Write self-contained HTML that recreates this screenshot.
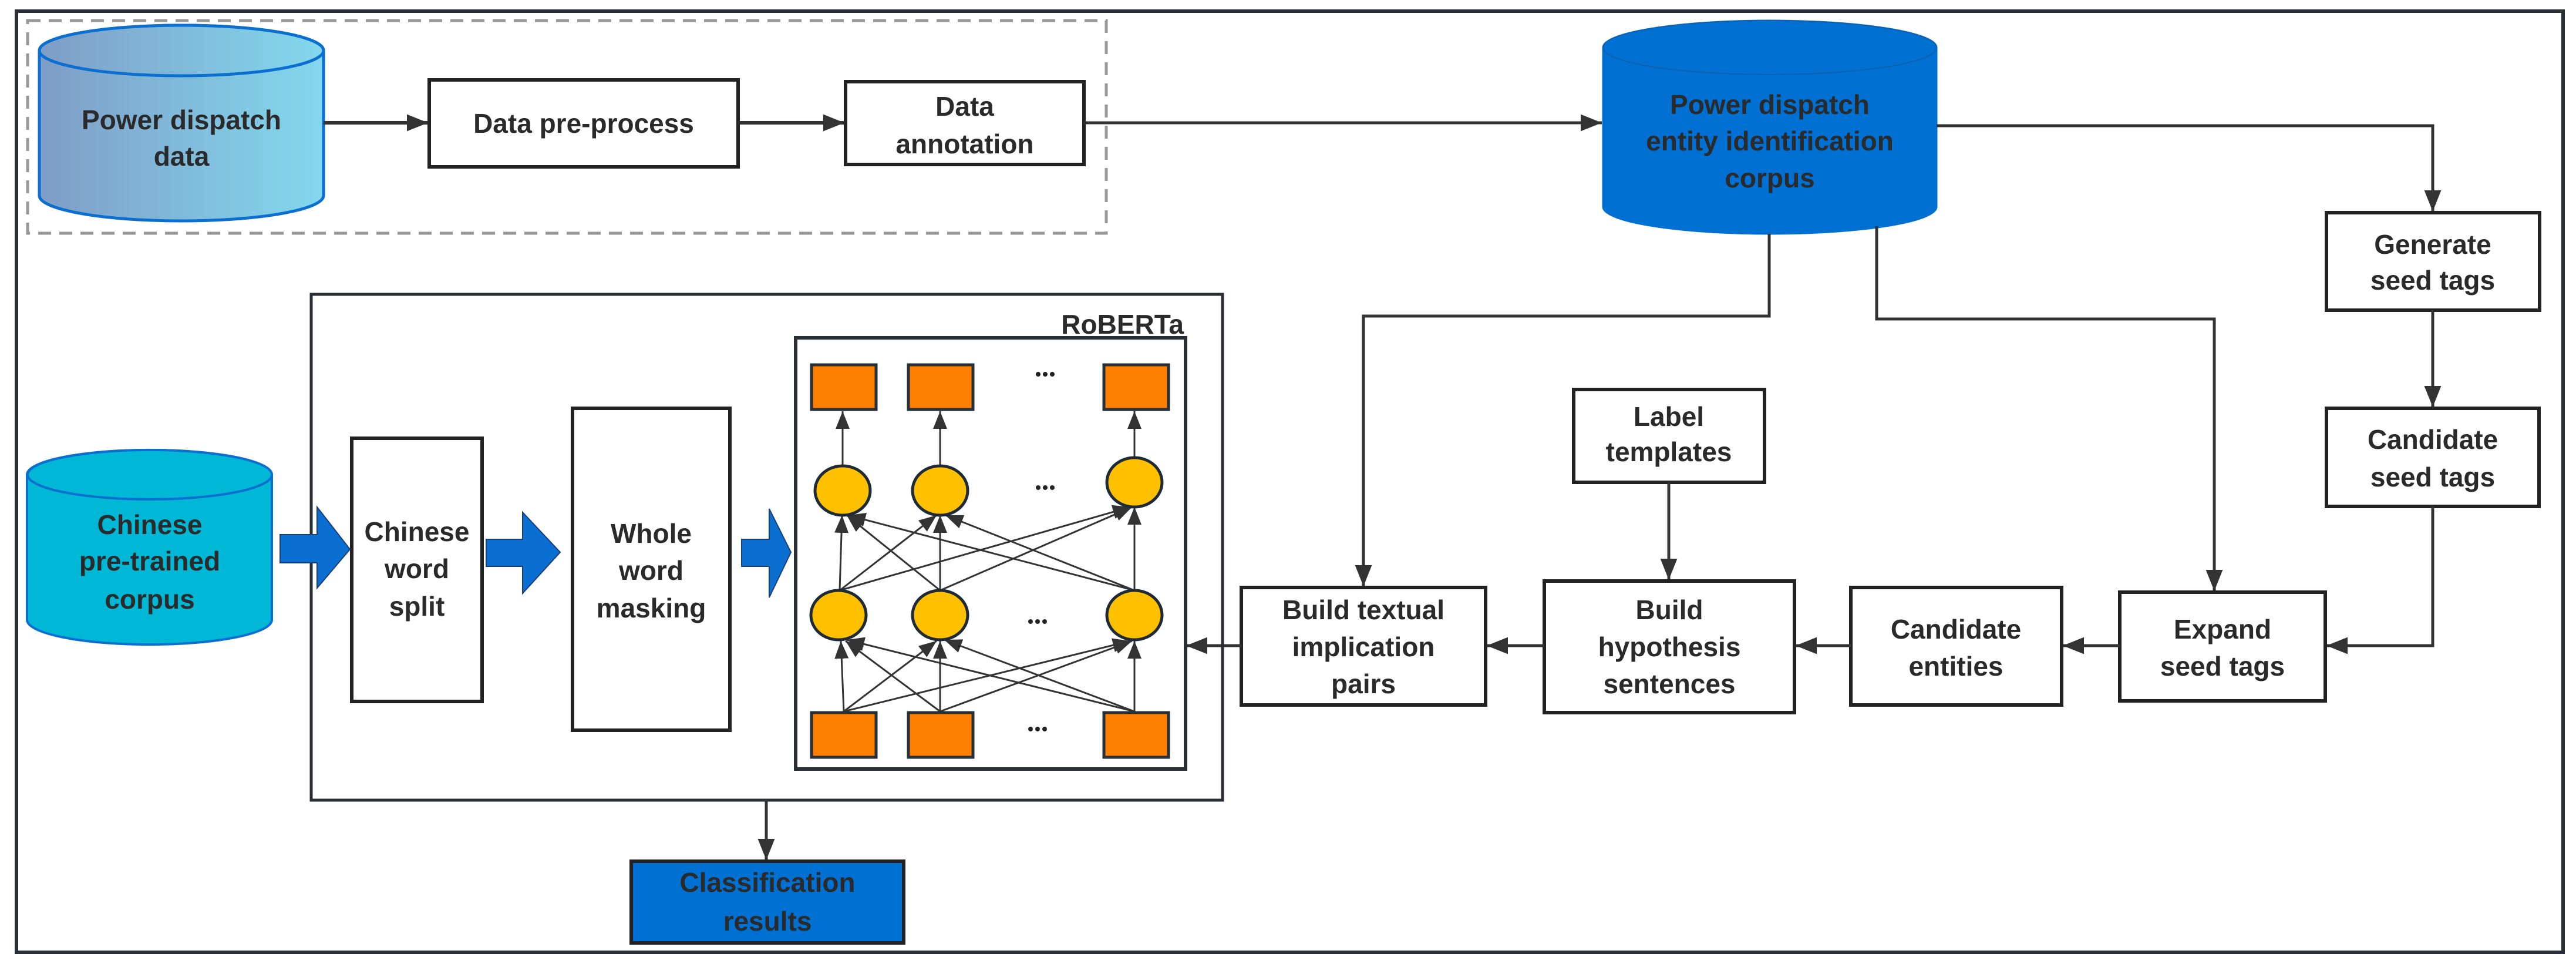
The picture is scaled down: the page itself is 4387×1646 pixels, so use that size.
<!DOCTYPE html>
<html><head><meta charset="utf-8"><style>html,body{margin:0;padding:0;background:#fff}svg{display:block}text{font-family:"Liberation Sans",sans-serif;font-weight:bold;font-size:46px;fill:#2a2a2a;text-anchor:middle;dominant-baseline:central}</style></head><body>
<svg width="4387" height="1646" viewBox="0 0 4387 1646" xmlns="http://www.w3.org/2000/svg">
<defs>
<linearGradient id="g1" x1="0" x2="1" y1="0" y2="0"><stop offset="0" stop-color="#7f9dc6"/><stop offset="1" stop-color="#82d8ee"/></linearGradient>
<marker id="ah" viewBox="0 0 10 10" refX="10" refY="5" markerWidth="36" markerHeight="36" markerUnits="userSpaceOnUse" orient="auto"><path d="M0,1 L10,5 L0,9 Z" fill="#333"/></marker>
<marker id="as" viewBox="0 0 10 10" refX="10" refY="5" markerWidth="30" markerHeight="30" markerUnits="userSpaceOnUse" orient="auto"><path d="M0,1 L10,5 L0,9 Z" fill="#333"/></marker>
</defs>
<rect x="28" y="19" width="4337" height="1602" fill="none" stroke="#2a2f36" stroke-width="6"/>
<rect x="47" y="35" width="1837" height="362" fill="none" stroke="#999" stroke-width="5" stroke-dasharray="22,14"/>
<path d="M67,86 A242,43 0 0 1 551,86 V333 A242,43 0 0 1 67,333 Z" fill="url(#g1)" stroke="#0a6fd0" stroke-width="5"/>
<ellipse cx="309" cy="86" rx="242" ry="43" fill="url(#g1)" stroke="#0a6fd0" stroke-width="5"/>
<text x="309" y="204">Power dispatch</text><text x="309" y="266">data</text>
<rect x="731" y="136" width="526" height="148" fill="#fff" stroke="#222" stroke-width="6"/>
<text x="994" y="210">Data pre-process</text>
<rect x="1440" y="139" width="406" height="141" fill="#fff" stroke="#222" stroke-width="6"/>
<text x="1643" y="181">Data</text><text x="1643" y="245">annotation</text>
<line x1="551" y1="209" x2="729" y2="209" stroke="#333" stroke-width="6" marker-end="url(#ah)"/>
<line x1="1257" y1="209" x2="1438" y2="209" stroke="#333" stroke-width="6" marker-end="url(#ah)"/>
<line x1="1846" y1="209" x2="2728" y2="209" stroke="#333" stroke-width="5" marker-end="url(#ah)"/>
<path d="M2730,81 A284,46 0 0 1 3298,81 V352 A284,46 0 0 1 2730,352 Z" fill="#0070d2" stroke="#0070d2" stroke-width="3"/>
<ellipse cx="3014" cy="81" rx="284" ry="46" fill="#0070d2" stroke="#1060b0" stroke-width="2"/>
<text x="3014" y="178">Power dispatch</text><text x="3014" y="240">entity identification</text><text x="3014" y="303">corpus</text>
<polyline points="3298,214 4143,214 4143,360" fill="none" stroke="#333" stroke-width="5" marker-end="url(#ah)"/>
<rect x="3962" y="362" width="363" height="166" fill="#fff" stroke="#222" stroke-width="6"/>
<text x="4143" y="416">Generate</text><text x="4143" y="477">seed tags</text>
<line x1="4143" y1="528" x2="4143" y2="693" stroke="#333" stroke-width="5" marker-end="url(#ah)"/>
<rect x="3962" y="695" width="362" height="167" fill="#fff" stroke="#222" stroke-width="6"/>
<text x="4143" y="748">Candidate</text><text x="4143" y="812">seed tags</text>
<polyline points="4143,862 4143,1099 3962,1099" fill="none" stroke="#333" stroke-width="5" marker-end="url(#ah)"/>
<polyline points="3013,398 3013,538 2322,538 2322,998" fill="none" stroke="#333" stroke-width="5" marker-end="url(#ah)"/>
<polyline points="3196,385 3196,543 3771,543 3771,1006" fill="none" stroke="#333" stroke-width="5" marker-end="url(#ah)"/>
<rect x="2680" y="663" width="325" height="158" fill="#fff" stroke="#222" stroke-width="6"/>
<text x="2842" y="709">Label</text><text x="2842" y="769">templates</text>
<line x1="2842" y1="821" x2="2842" y2="987" stroke="#333" stroke-width="5" marker-end="url(#ah)"/>
<rect x="2114" y="1000" width="416" height="200" fill="#fff" stroke="#222" stroke-width="6"/>
<text x="2322" y="1038">Build textual</text><text x="2322" y="1101">implication</text><text x="2322" y="1164">pairs</text>
<rect x="2630" y="989" width="426" height="224" fill="#fff" stroke="#222" stroke-width="6"/>
<text x="2843" y="1038">Build</text><text x="2843" y="1101">hypothesis</text><text x="2843" y="1164">sentences</text>
<rect x="3152" y="1000" width="359" height="200" fill="#fff" stroke="#222" stroke-width="6"/>
<text x="3331" y="1071">Candidate</text><text x="3331" y="1134">entities</text>
<rect x="3610" y="1008" width="350" height="185" fill="#fff" stroke="#222" stroke-width="6"/>
<text x="3785" y="1071">Expand</text><text x="3785" y="1134">seed tags</text>
<line x1="3610" y1="1099" x2="3513" y2="1099" stroke="#333" stroke-width="5" marker-end="url(#ah)"/>
<line x1="3152" y1="1099" x2="3058" y2="1099" stroke="#333" stroke-width="5" marker-end="url(#ah)"/>
<line x1="2630" y1="1099" x2="2532" y2="1099" stroke="#333" stroke-width="5" marker-end="url(#ah)"/>
<line x1="2114" y1="1099" x2="2020" y2="1099" stroke="#333" stroke-width="5" marker-end="url(#ah)"/>
<rect x="530" y="501" width="1552" height="861" fill="none" stroke="#2a2f36" stroke-width="5"/>
<text x="2016" y="552" style="text-anchor:end">RoBERTa</text>
<rect x="1355" y="575" width="664" height="734" fill="#fff" stroke="#2a2f36" stroke-width="6"/>
<path d="M46,808 A208,42 0 0 1 463,808 V1055 A208,42 0 0 1 46,1055 Z" fill="#00b8d6" stroke="#0a6fd0" stroke-width="4"/>
<ellipse cx="255" cy="808" rx="208" ry="42" fill="#00b8d6" stroke="#0a6fd0" stroke-width="4"/>
<text x="255" y="893">Chinese</text><text x="255" y="955">pre-trained</text><text x="255" y="1020">corpus</text>
<rect x="599" y="746" width="222" height="448" fill="#fff" stroke="#222" stroke-width="6"/>
<text x="710" y="905">Chinese</text><text x="710" y="968">word</text><text x="710" y="1032">split</text>
<rect x="975" y="695" width="268" height="548" fill="#fff" stroke="#222" stroke-width="6"/>
<text x="1109" y="908">Whole</text><text x="1109" y="971">word</text><text x="1109" y="1035">masking</text>
<g fill="#0a6fd0" stroke="#1a3f7a" stroke-width="2">
<path d="M477,910 H540 V863 L596,935 L540,1001 V958 H477 Z"/>
<path d="M828,918 H890 V872 L954,940 L890,1010 V964 H828 Z"/>
<path d="M1263,918 H1310 V866 L1347,940 L1310,1017 V964 H1263 Z"/>
</g>
<g stroke="#333" stroke-width="3" fill="none">
<line x1="1437" y1="1211" x2="1432" y2="1091" marker-end="url(#as)"/>
<line x1="1437" y1="1211" x2="1595" y2="1091" marker-end="url(#as)"/>
<line x1="1437" y1="1211" x2="1925" y2="1091" marker-end="url(#as)"/>
<line x1="1601" y1="1211" x2="1440" y2="1091" marker-end="url(#as)"/>
<line x1="1601" y1="1211" x2="1601" y2="1091" marker-end="url(#as)"/>
<line x1="1601" y1="1211" x2="1928" y2="1091" marker-end="url(#as)"/>
<line x1="1932" y1="1211" x2="1442" y2="1089" marker-end="url(#as)"/>
<line x1="1932" y1="1211" x2="1608" y2="1089" marker-end="url(#as)"/>
<line x1="1932" y1="1211" x2="1932" y2="1091" marker-end="url(#as)"/>
<line x1="1430" y1="1005" x2="1434" y2="877" marker-end="url(#as)"/>
<line x1="1430" y1="1005" x2="1595" y2="877" marker-end="url(#as)"/>
<line x1="1430" y1="1005" x2="1925" y2="863" marker-end="url(#as)"/>
<line x1="1601" y1="1005" x2="1442" y2="877" marker-end="url(#as)"/>
<line x1="1601" y1="1005" x2="1601" y2="877" marker-end="url(#as)"/>
<line x1="1601" y1="1005" x2="1928" y2="863" marker-end="url(#as)"/>
<line x1="1932" y1="1005" x2="1444" y2="877" marker-end="url(#as)"/>
<line x1="1932" y1="1005" x2="1610" y2="877" marker-end="url(#as)"/>
<line x1="1932" y1="1005" x2="1932" y2="863" marker-end="url(#as)"/>
<line x1="1435" y1="793" x2="1435" y2="700" marker-end="url(#as)"/>
<line x1="1601" y1="793" x2="1601" y2="700" marker-end="url(#as)"/>
<line x1="1932" y1="779" x2="1932" y2="700" marker-end="url(#as)"/>
</g>
<g fill="#ff8000" stroke="#26303a" stroke-width="5">
<rect x="1382" y="621" width="110" height="76"/><rect x="1547" y="621" width="110" height="76"/><rect x="1880" y="621" width="110" height="76"/>
<rect x="1382" y="1213" width="110" height="76"/><rect x="1547" y="1213" width="110" height="76"/><rect x="1880" y="1213" width="110" height="76"/>
</g>
<g fill="#ffc000" stroke="#1e2a36" stroke-width="5">
<ellipse cx="1435" cy="835" rx="47" ry="42"/><ellipse cx="1601" cy="835" rx="47" ry="42"/><ellipse cx="1932" cy="821" rx="47" ry="42"/>
<ellipse cx="1428" cy="1047" rx="47" ry="42"/><ellipse cx="1601" cy="1047" rx="47" ry="42"/><ellipse cx="1932" cy="1047" rx="47" ry="42"/>
</g>
<g fill="#222">
<circle cx="1768" cy="637" r="4"/><circle cx="1780" cy="637" r="4"/><circle cx="1792" cy="637" r="4"/>
<circle cx="1768" cy="830" r="4"/><circle cx="1780" cy="830" r="4"/><circle cx="1792" cy="830" r="4"/>
<circle cx="1755" cy="1058" r="4"/><circle cx="1767" cy="1058" r="4"/><circle cx="1779" cy="1058" r="4"/>
<circle cx="1755" cy="1241" r="4"/><circle cx="1767" cy="1241" r="4"/><circle cx="1779" cy="1241" r="4"/>
</g>
<line x1="1305" y1="1362" x2="1305" y2="1464" stroke="#333" stroke-width="5" marker-end="url(#ah)"/>
<rect x="1075" y="1466" width="464" height="139" fill="#0070d2" stroke="#222" stroke-width="6"/>
<text x="1307" y="1502">Classification</text><text x="1307" y="1568">results</text>
</svg>
</body></html>
